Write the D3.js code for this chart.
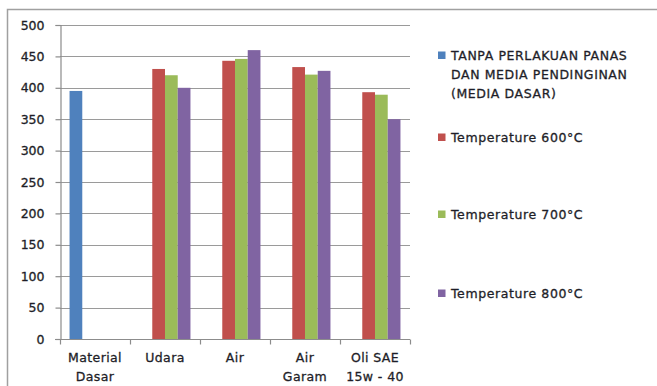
<!DOCTYPE html>
<html>
<head>
<meta charset="utf-8">
<script src="https://cdn.jsdelivr.net/npm/d3@7"></script>
<style>
  html, body { margin: 0; padding: 0; background: #fff; }
  svg { display: block; }
  text { font-family: "DejaVu Sans", sans-serif; fill: #1e1e28; stroke: #1e1e28; stroke-width: 0.3px; }
</style>
</head>
<body>
<svg id="chart" width="657" height="386"></svg>
<script>
// Categories (x axis), each label split into lines
const categories = ["Material Dasar", "Udara", "Air", "Air Garam", "Oli SAE 15w - 40"];
const categoryLines = [["Material", "Dasar"], ["Udara"], ["Air"], ["Air", "Garam"], ["Oli SAE", "15w - 40"]];

// Series names (legend) and values per category (null = no bar)
const seriesNames = [
  ["TANPA PERLAKUAN PANAS", "DAN MEDIA PENDINGINAN", "(MEDIA DASAR)"],
  ["Temperature 600°C"],
  ["Temperature 700°C"],
  ["Temperature 800°C"]
];
const mediaDasar = [395, null, null, null, null];
const temp600 = [null, 430, 443, 433, 393];
const temp700 = [null, 420, 446, 421, 389];
const temp800 = [null, 400, 460, 427, 350];
const yTicks = [0, 50, 100, 150, 200, 250, 300, 350, 400, 450, 500];

const seriesValues = [mediaDasar, temp600, temp700, temp800];
const colors = ["#4F81BD", "#C0504D", "#9BBB59", "#8064A2"];

const svg = d3.select("#chart");

// Chart frame (top and left edges)
svg.append("path")
  .attr("d", "M7.5,386 V9.5 H657")
  .attr("fill", "none")
  .attr("stroke", "#a0a0a0")
  .attr("stroke-width", 1.5);

const plot = { left: 60, right: 410, top: 25, bottom: 339 };

const x = d3.scaleBand()
  .domain(categories)
  .range([plot.left, plot.right])
  .paddingInner(0)
  .paddingOuter(0);

const y = d3.scaleLinear()
  .domain([0, 500])
  .range([plot.bottom, plot.top]);

// Bars inside a group: 4 bars with gap width 150%
const xs = d3.scaleBand()
  .domain(d3.range(seriesValues.length))
  .range([0, x.bandwidth()])
  .paddingInner(0)
  .paddingOuter(0.75);

// Horizontal gridlines
svg.append("g")
  .selectAll("line")
  .data(yTicks.filter(t => t > 0))
  .join("line")
  .attr("x1", plot.left)
  .attr("x2", plot.right)
  .attr("y1", d => Math.round(y(d)) + 0.5)
  .attr("y2", d => Math.round(y(d)) + 0.5)
  .attr("stroke", "#9a9a9a")
  .attr("stroke-width", 1.2);

// Bars
const groups = svg.append("g")
  .selectAll("g")
  .data(seriesValues)
  .join("g")
  .attr("fill", (d, i) => colors[i]);

groups.selectAll("rect")
  .data((vals, si) => vals.map((v, ci) => ({ v, ci, si })).filter(d => d.v !== null))
  .join("rect")
  .attr("x", d => x(categories[d.ci]) + xs(d.si))
  .attr("width", xs.bandwidth())
  .attr("y", d => y(d.v))
  .attr("height", d => y(0) - y(d.v));

// Y axis
const yAxis = d3.axisLeft(y)
  .tickValues(yTicks)
  .tickSize(5)
  .tickPadding(11)
  .tickFormat(d3.format("d"));

const gy = svg.append("g")
  .attr("transform", `translate(${plot.left + 0.5},0)`)
  .call(yAxis);
gy.select(".domain").attr("stroke", "#8c8c8c").attr("stroke-width", 1.2);
gy.selectAll(".tick line").attr("stroke", "#8c8c8c").attr("stroke-width", 1.2);
gy.selectAll(".tick text")
  .attr("font-family", "DejaVu Sans, sans-serif")
  .attr("font-size", 12.5)
  .attr("fill", "#1e1e28");

// X axis with tick marks at category boundaries
const gx = svg.append("g")
  .attr("transform", `translate(0,${plot.bottom + 0.5})`);
gx.append("line")
  .attr("x1", plot.left - 5).attr("x2", plot.right)
  .attr("stroke", "#8c8c8c").attr("stroke-width", 1.2);
gx.selectAll("line.tk")
  .data(categories.map(c => x(c)).concat([plot.right]))
  .join("line")
  .attr("class", "tk")
  .attr("x1", d => d + 0.5).attr("x2", d => d + 0.5)
  .attr("y1", 0).attr("y2", 5)
  .attr("stroke", "#8c8c8c").attr("stroke-width", 1.2);

// Category labels
const labels = svg.append("g")
  .selectAll("text")
  .data(categories)
  .join("text")
  .attr("text-anchor", "middle")
  .attr("font-size", 12.5)
  .attr("letter-spacing", 0.4)
  .attr("transform", d => `translate(${x(d) + x.bandwidth() / 2},362)`);
labels.selectAll("tspan")
  .data((d, i) => categoryLines[i])
  .join("tspan")
  .attr("x", 0)
  .attr("dy", (d, i) => i === 0 ? 0 : 18.5)
  .text(d => d);

// Legend
const legendY = [55, 137, 214, 293];
const legend = svg.append("g")
  .selectAll("g")
  .data(seriesNames)
  .join("g")
  .attr("transform", (d, i) => `translate(438,${legendY[i]})`);
legend.append("rect")
  .attr("x", 0).attr("y", -3.5)
  .attr("width", 7.5).attr("height", 7.5)
  .attr("fill", (d, i) => colors[i]);
legend.append("text")
  .attr("x", 13)
  .attr("y", 4.5)
  .attr("font-size", 12.5)
  .attr("letter-spacing", 0.6)
  .selectAll("tspan")
  .data(d => d)
  .join("tspan")
  .attr("x", 13)
  .attr("dy", (d, i) => i === 0 ? 0 : 19)
  .text(d => d);
</script>
</body>
</html>
